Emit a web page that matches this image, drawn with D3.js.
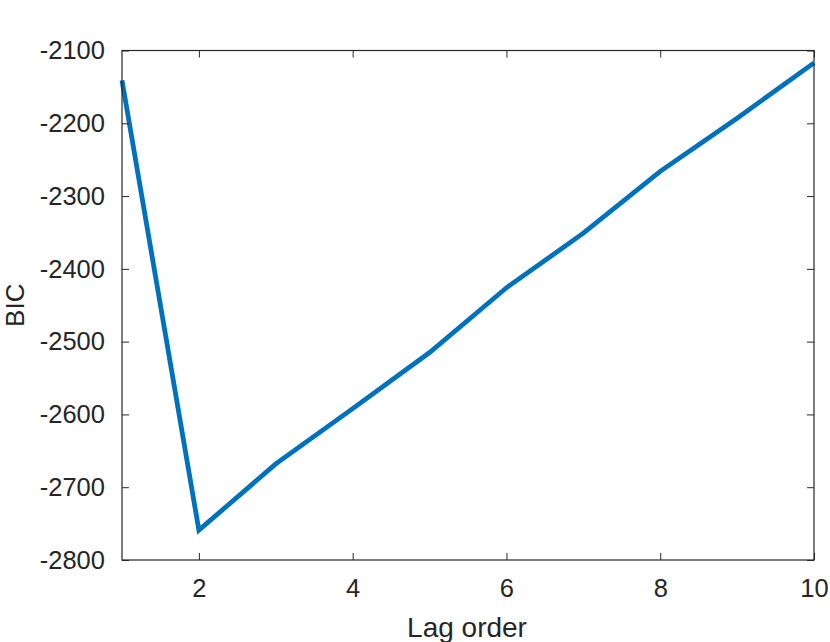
<!DOCTYPE html>
<html><head><meta charset="utf-8">
<script src="https://cdn.jsdelivr.net/npm/d3@7"></script>
<style>body{margin:0;background:#fff}</style>
</head><body>
<svg id="c" width="830" height="642"></svg>
<script>
const lags = [1,2,3,4,5,6,7,8,9,10];
const bic = [-2141,-2759,-2668,-2592,-2515,-2426,-2351,-2266,-2193,-2117];
const xTicks = [2,4,6,8,10];
const yTicks = [-2800,-2700,-2600,-2500,-2400,-2300,-2200,-2100];
const xLabel = "Lag order";
const yLabel = "BIC";

const svg = d3.select("#c");
const L=122, R=814, T=50.5, B=560;
const x = d3.scaleLinear().domain([1,10]).range([L,R]);
const y = d3.scaleLinear().domain([-2800,-2100]).range([B,T]);
const axisColor="#262626";
const font="'Liberation Sans', Arial, Helvetica, sans-serif";

// line
svg.append("path").datum(lags.map((d,i)=>[d,bic[i]]))
  .attr("d", d3.line().x(d=>x(d[0])).y(d=>y(d[1])))
  .attr("fill","none").attr("stroke","#0072BD").attr("stroke-width",4.8)
  .attr("stroke-linejoin","miter");

function style(g){
  g.selectAll("path.domain").remove();
  g.selectAll("line").attr("stroke",axisColor).attr("stroke-width",1);
  g.selectAll("text").attr("fill",axisColor).style("font-family",font).style("font-size","25.5px");
}
const tl=7;
svg.append("g").attr("transform",`translate(0,${B})`)
  .call(d3.axisBottom(x).tickValues(xTicks).tickFormat(d3.format("d")).tickSizeInner(-tl).tickPadding(19)).call(style);
svg.append("g").attr("transform",`translate(0,${T})`)
  .call(d3.axisTop(x).tickValues(xTicks).tickFormat("").tickSizeInner(-tl)).call(style);
svg.append("g").attr("transform",`translate(${L},0)`)
  .call(d3.axisLeft(y).tickValues(yTicks).tickFormat(d3.format("d")).tickSizeInner(-tl).tickPadding(17)).call(style);
svg.append("g").attr("transform",`translate(${R},0)`)
  .call(d3.axisRight(y).tickValues(yTicks).tickFormat("").tickSizeInner(-tl)).call(style);
// hyphen-minus as in the reference
svg.selectAll("text").text(function(){return d3.select(this).text().replace("−","-");});

svg.append("rect").attr("x",L).attr("y",T).attr("width",R-L).attr("height",B-T)
  .attr("fill","none").attr("stroke",axisColor).attr("stroke-width",1.2);

svg.append("text").attr("x",(L+R)/2 - 1).attr("y",637).attr("text-anchor","middle")
  .attr("fill",axisColor).style("font-family",font).style("font-size","28px").text(xLabel);
svg.append("text").attr("transform",`translate(24,${(T+B)/2}) rotate(-90)`).attr("text-anchor","middle")
  .attr("fill",axisColor).style("font-family",font).style("font-size","26px").text(yLabel);
</script>
</body></html>
